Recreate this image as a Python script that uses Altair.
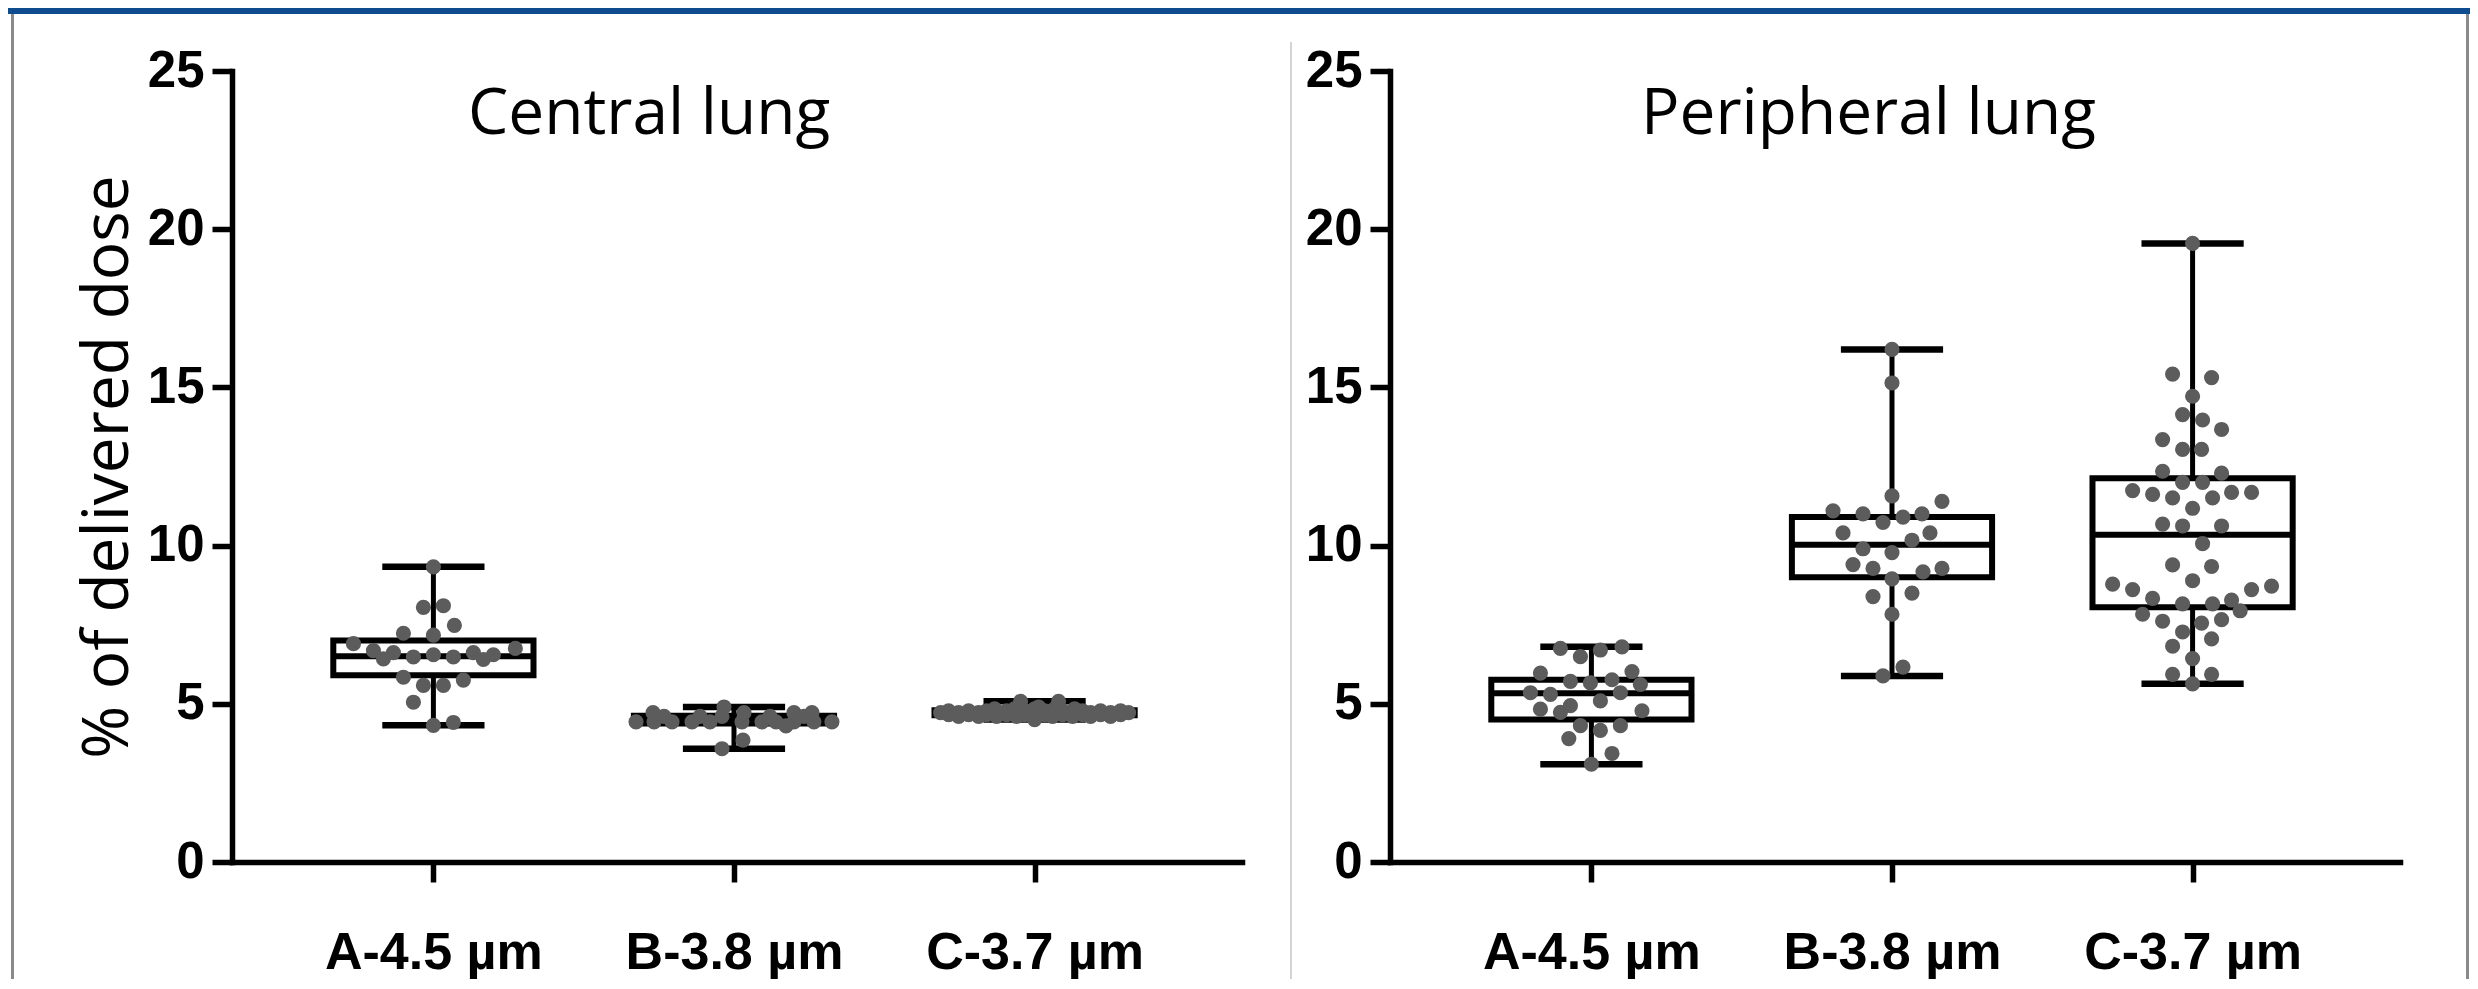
import altair as alt
import pandas as pd

# ---------------- data ----------------
GROUPS = ["A-4.5 µm", "B-3.8 µm", "C-3.7 µm"]
PANEL_TITLES = ["Central lung", "Peripheral lung"]
Y_TICKS = [0, 5, 10, 15, 20, 25]
Y_TITLE = "% of delivered dose"

# Central lung: individual values and their horizontal swarm slot (in point widths)
central_a_values = [9.33, 8.05, 8.10, 7.48, 7.23, 7.17, 6.90, 6.68, 6.42, 6.62, 6.48, 6.55,
                    6.48, 6.62, 6.40, 6.55, 6.75, 5.84, 5.75, 5.58, 5.58, 5.05, 4.32, 4.41]
central_a_offsets = [0, -0.5, 0.5, 1.05, -1.5, 0, -4.0, -3.0, -2.5, -2.0, -1.0, 0,
                     1.0, 2.0, 2.5, 3.0, 4.1, -1.5, 1.5, -0.5, 0.5, -1.0, 0, 1.0]

central_b_values = [4.43, 4.43, 4.43, 4.43, 4.43, 4.43, 4.43, 4.43, 4.43, 4.43, 4.43,
                    4.90, 4.72, 4.72, 4.72, 4.72, 4.60, 4.60, 4.60, 4.60, 4.60,
                    3.58, 3.85, 4.30]
central_b_offsets = [-4.9, -4.0, -3.1, -2.1, -1.2, 0.4, 1.4, 2.1, 3.0, 4.0, 4.9,
                     -0.5, -4.05, 0.5, 3.0, 3.9, -3.5, -1.7, 1.8, 3.5, -0.6,
                     -0.6, 0.45, 2.6]

central_c_values = [4.72, 4.72, 4.72, 4.72, 4.72, 4.72, 4.72, 4.72, 4.72, 4.72, 4.72,
                    4.66, 4.66, 4.66, 4.66, 4.66, 4.66, 4.66, 4.66, 4.66, 4.66,
                    4.78, 4.78, 4.78, 4.78, 4.78, 4.78, 4.78, 4.78, 4.78, 4.78,
                    4.60, 4.60, 4.60, 4.60, 4.60, 4.60, 4.60, 4.60,
                    4.84, 4.84, 4.84, 4.84, 4.84,
                    5.08, 5.08, 4.50, 4.90]
central_c_offsets = [-4.7, -3.8, -2.8, -1.9, -0.9, 0, 0.9, 1.9, 2.8, 3.8, 4.7,
                     -4.3, -3.3, -2.4, -1.4, -0.5, 0.5, 1.4, 2.4, 3.3, 4.3,
                     -4.3, -3.3, -2.4, -1.4, -0.5, 0.5, 1.4, 2.4, 3.3, 4.3,
                     -3.8, -2.8, -1.9, -0.9, 0.9, 1.9, 2.8, 3.8,
                     -2.0, -1.0, 0, 1.0, 2.0,
                     -0.7, 1.2, 0, 0.2]

# Peripheral lung
peripheral_a_values = [6.75, 6.49, 6.70, 6.80, 5.97, 6.02, 5.71, 5.66, 5.76, 5.61, 5.35, 5.30,
                       5.35, 5.09, 4.83, 4.73, 4.94, 4.78, 4.31, 4.16, 4.31, 3.90, 3.43, 3.09]
peripheral_a_offsets = [-1.55, -0.55, 0.45, 1.53, -2.55, 2.03, -1.05, -0.05, 1.03, 2.45, -3.05, -2.05,
                        1.45, 0.45, -2.55, -1.55, -1.05, 2.53, -0.55, 0.45, 1.45, -1.13, 1.03, 0]

peripheral_b_values = [16.2, 15.14, 11.57, 11.4, 11.1, 11.0, 10.73, 10.9, 11.0, 10.4, 10.4, 10.17,
                       9.9, 9.78, 9.4, 9.28, 9.17, 9.28, 8.95, 8.39, 8.5, 7.83, 6.16, 5.88]
peripheral_b_offsets = [0, 0, 0, 2.5, -2.95, -1.45, -0.45, 0.55, 1.5, -2.45, 1.9, 1.0,
                        -1.45, 0, -1.95, -0.95, 1.55, 2.5, 0, -0.95, 1.0, 0, 0.55, -0.45]

peripheral_c_values = [19.55, 15.42, 15.31, 14.72, 14.14, 13.97, 13.67, 13.35, 13.04, 13.04,
                       12.35, 12.29, 12.0, 12.0, 11.74, 11.62, 11.51, 11.51, 11.68, 11.68,
                       11.18, 10.68, 10.62, 10.62, 10.06, 9.39, 9.34, 8.89,
                       8.78, 8.61, 8.61, 8.72, 8.33, 8.16, 8.16, 8.28,
                       7.83, 7.61, 7.55, 7.66, 7.94, 7.27, 7.05, 6.82, 6.43, 5.93, 5.93, 5.63]
peripheral_c_offsets = [0, -1.0, 0.95, 0, -0.5, 0.5, 1.45, -1.5, -0.5, 0.45,
                        -1.5, 1.45, -0.5, 0.5, -3.0, -2.0, -1.0, 1.0, 1.95, 2.95,
                        0, -1.5, -0.5, 1.45, 0.5, -1.0, 0.95, 0,
                        -4.0, -3.0, 2.95, 3.95, -2.0, -0.5, 1.0, 1.95,
                        -2.5, -1.5, 0.45, 1.45, 2.38, -0.5, 0.95, -1.0, 0, -1.0, 0.95, 0]

# Box statistics (min, Q1, median, Q3, max) per group A, B, C
central_min = [4.32, 3.58, 4.50]
central_q1 = [5.90, 4.38, 4.64]
central_med = [6.50, 4.47, 4.72]
central_q3 = [7.00, 4.62, 4.80]
central_max = [9.33, 4.90, 5.08]

peripheral_min = [3.09, 5.88, 5.63]
peripheral_q1 = [4.50, 9.00, 8.05]
peripheral_med = [5.33, 10.03, 10.34]
peripheral_q3 = [5.76, 10.90, 12.13]
peripheral_max = [6.80, 16.20, 19.55]

# ---------------- styling / layout ----------------
W, H = 1010, 791
XDOM = [0.33, 3.69]
SLOT = 0.0665       # one point width in x units
BOX_HALF = 0.333
CAP_HALF = 0.17
PT_COLOR = "#5c5c5c"
BLUE = "#0f4c8f"
FRAME_GREY = "#8a8a8a"
DIVIDER_GREY = "#d4d4d4"
LABEL_FONT = "Liberation Sans, Arial, sans-serif"
TITLE_FONT = "Open Sans"

label_expr = " : ".join(
    [f"datum.value == {i + 1} ? '{g}'" for i, g in enumerate(GROUPS[:-1])] + [f"'{GROUPS[-1]}'"]
)


def points_frame(vals_list, offs_list):
    rows = []
    for gi, (vals, offs) in enumerate(zip(vals_list, offs_list), start=1):
        for v, o in zip(vals, offs):
            rows.append({"gi": gi, "value": v, "off": o})
    return pd.DataFrame(rows)


def box_frame(mins, q1s, meds, q3s, maxs):
    return pd.DataFrame({"gi": [1, 2, 3], "lo": mins, "q1": q1s, "med": meds, "q3": q3s, "hi": maxs})


xs = alt.Scale(domain=XDOM, nice=False, zero=False)
ys = alt.Scale(domain=[0, 25], nice=False, zero=False)

AX_COMMON = dict(
    domainColor="black", domainWidth=5.5, domainCap="square",
    tickColor="black", tickWidth=5.5, tickSize=20,
    labelFont=LABEL_FONT, labelFontWeight="bold", labelColor="black",
    grid=False, labelOverlap=False, labelLimit=0,
)


def panel(title, dx, pdf, bdf, show_ytitle, decos):
    x_axis = alt.Axis(values=[1, 2, 3], labelExpr=label_expr, title=None,
                      labelFontSize=52, labelBaseline="alphabetic", labelPadding=86,
                      labelFlush=False, **AX_COMMON)
    y_kwargs = dict(values=Y_TICKS, labelFontSize=51, labelPadding=8, format="d", **AX_COMMON)
    if show_ytitle:
        y_axis = alt.Axis(title=Y_TITLE, titleFont=TITLE_FONT, titleFontSize=64,
                          titleFontWeight="normal", titleColor="black",
                          titlePadding=20, titleBaseline="alphabetic", **y_kwargs)
    else:
        y_axis = alt.Axis(title=None, **y_kwargs)

    def X(f):
        return alt.X(f, scale=xs, axis=x_axis)

    def Y(f):
        return alt.Y(f, scale=ys, axis=y_axis)

    base_box = alt.Chart(bdf).transform_calculate(
        x_lo=f"datum.gi - {BOX_HALF}", x_hi=f"datum.gi + {BOX_HALF}",
        c_lo=f"datum.gi - {CAP_HALF}", c_hi=f"datum.gi + {CAP_HALF}",
    )
    whisk_hi = base_box.mark_rule(color="black", strokeWidth=5).encode(
        x=X("gi:Q"), y=Y("q3:Q"), y2="hi:Q")
    whisk_lo = base_box.mark_rule(color="black", strokeWidth=5).encode(
        x=X("gi:Q"), y=Y("lo:Q"), y2="q1:Q")
    box = base_box.mark_rect(fill="white", fillOpacity=0, stroke="black", strokeWidth=6).encode(
        x=X("x_lo:Q"), x2="x_hi:Q", y=Y("q1:Q"), y2="q3:Q")
    median = base_box.mark_rule(color="black", strokeWidth=6).encode(
        x=X("x_lo:Q"), x2="x_hi:Q", y=Y("med:Q"))
    cap_hi = base_box.mark_rule(color="black", strokeWidth=6.5).encode(
        x=X("c_lo:Q"), x2="c_hi:Q", y=Y("hi:Q"))
    cap_lo = base_box.mark_rule(color="black", strokeWidth=6.5).encode(
        x=X("c_lo:Q"), x2="c_hi:Q", y=Y("lo:Q"))

    pts = alt.Chart(pdf).transform_calculate(
        px=f"datum.gi + datum.off * {SLOT}"
    ).mark_circle(size=230, color=PT_COLOR, opacity=1).encode(
        x=X("px:Q"), y=Y("value:Q"),
    )

    one = pd.DataFrame({"k": [0]})
    deco_layers = []
    for (x1, x2, y1, y2, col) in decos:
        deco_layers.append(
            alt.Chart(one).mark_rect(color=col).encode(
                x=alt.value(x1), x2=alt.value(x2), y=alt.value(y1), y2=alt.value(y2))
        )
    title_txt = alt.Chart(one).mark_text(
        text=title, font=TITLE_FONT, fontSize=64, color="black", align="left", baseline="alphabetic"
    ).encode(x=alt.value(dx), y=alt.value(63))

    return alt.layer(*deco_layers, whisk_hi, whisk_lo, box, median, cap_hi, cap_lo, pts,
                     title_txt).properties(width=W, height=H)


central_pts = points_frame([central_a_values, central_b_values, central_c_values],
                           [central_a_offsets, central_b_offsets, central_c_offsets])
peripheral_pts = points_frame([peripheral_a_values, peripheral_b_values, peripheral_c_values],
                              [peripheral_a_offsets, peripheral_b_offsets, peripheral_c_offsets])
central_box = box_frame(central_min, central_q1, central_med, central_q3, central_max)
peripheral_box = box_frame(peripheral_min, peripheral_q1, peripheral_med, peripheral_q3, peripheral_max)

left = panel(PANEL_TITLES[0], 236, central_pts, central_box, True, [
    (-224, 1058, -63, -57, BLUE),
    (-221, -218, -57, 908, FRAME_GREY),
])
right = panel(PANEL_TITLES[1], 251, peripheral_pts, peripheral_box, False, [
    (-100, 1080, -63, -57, BLUE),
    (-100, -98, -29, 908, DIVIDER_GREY),
    (1076, 1079, -57, 908, FRAME_GREY),
])

chart = alt.hconcat(left, right, spacing=0).properties(
    padding=0, background="white"
).configure_view(strokeWidth=0)

chart.save("out.html", embed_options={"renderer": "svg", "actions": False})
